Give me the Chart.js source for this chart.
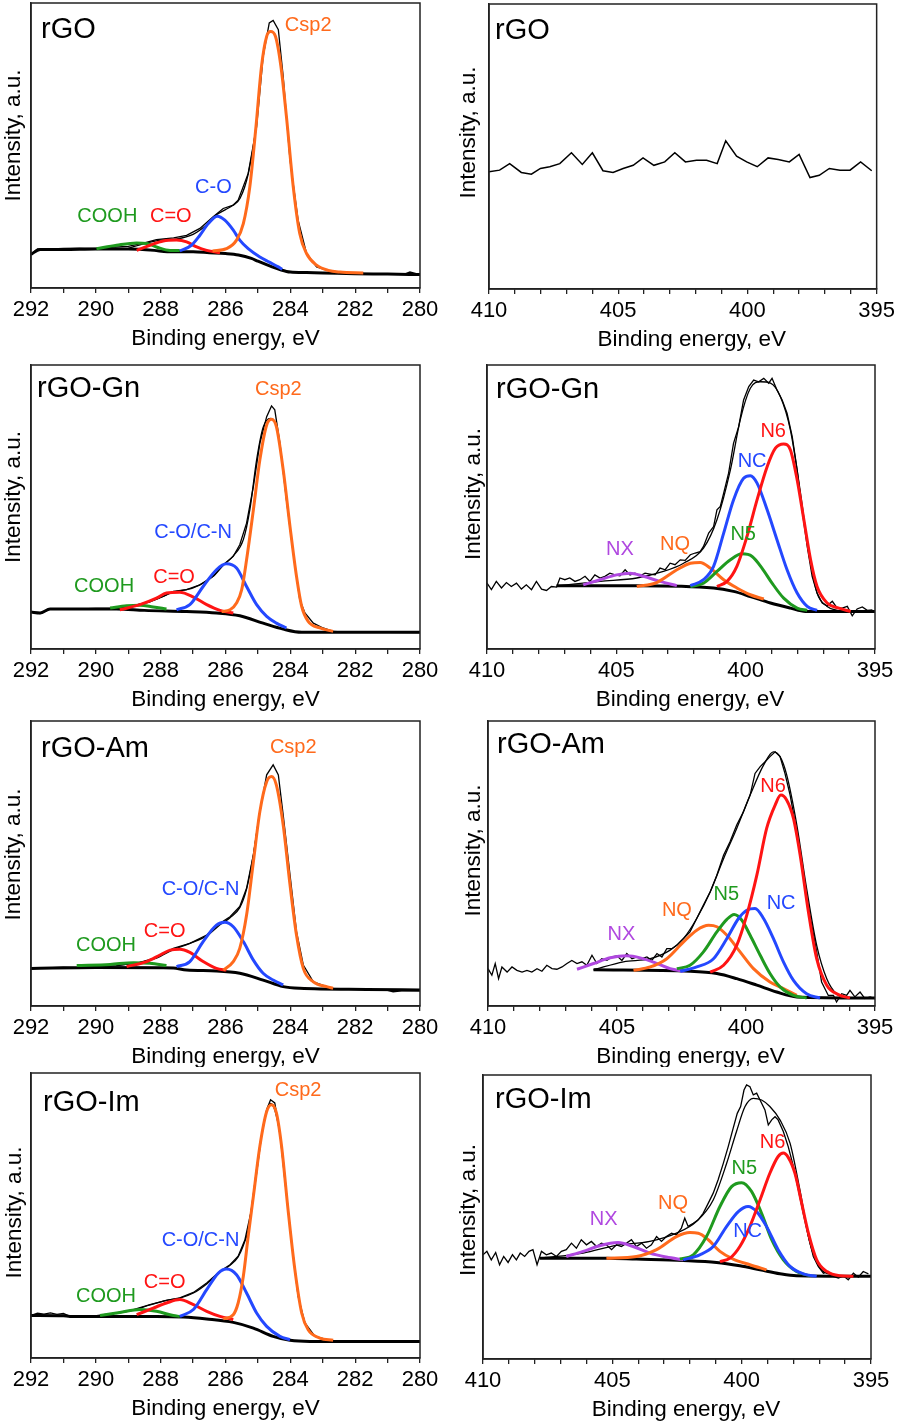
<!DOCTYPE html>
<html>
<head>
<meta charset="utf-8">
<script src="https://cdn.jsdelivr.net/npm/chart.js@4.4.1/dist/chart.umd.min.js"></script>
<style>
  html, body { margin: 0; padding: 0; background: #fff; }
  #page { position: relative; width: 899px; height: 1423px; overflow: hidden; }
  #page canvas { position: absolute; }
</style>
</head>
<body>
<div id="page"></div>
<script>
// ---- C 1s, rGO ----
const rgoC1sRaw = [[292.0,11.8],[291.8,13.7],[291.5,13.6],[291.0,13.9],[290.5,14.0],[290.0,13.9],[289.5,14.3],[289.0,14.6],[288.5,15.8],[288.13,17.0],[287.6,17.6],[287.2,18.5],[286.79,20.9],[286.38,25.0],[286.07,27.9],[285.76,29.1],[285.61,30.8],[285.30,40.2],[285.04,56.6],[284.84,81.2],[284.65,93.0],[284.53,93.9],[284.37,90.6],[284.22,74.2],[284.01,44.9],[283.76,23.8],[283.50,12.1],[283.19,7.4],[282.68,5.6],[282.0,5.0],[281.0,4.9],[280.5,4.8],[280.31,5.6],[280.0,4.7]];
const rgoC1sFit = [[289.0,13.9],[288.5,15.6],[288.0,16.8],[287.5,17.2],[287.0,18.8],[286.6,22.0],[286.3,25.5],[286.0,27.5],[285.76,29.1],[285.55,31.5],[285.3,40.0],[285.06,56.6],[284.89,77.7],[284.73,88.3],[284.61,90.0],[284.46,88.3],[284.29,77.7],[284.12,60.1],[283.91,35.5],[283.71,19.1],[283.50,12.1],[283.19,8.0],[282.83,6.2],[282.47,5.6],[281.75,5.3]];
const rgoC1sBg = [[292.0,11.8],[291.72,13.5],[291.0,13.5],[290.0,13.7],[289.0,13.7],[288.2,13.2],[287.8,12.7],[287.0,12.7],[286.5,12.4],[286.0,12.1],[285.6,11.6],[285.2,10.4],[285.0,9.4],[284.6,7.6],[284.3,6.4],[284.0,5.6],[283.5,5.4],[283.0,5.3],[282.0,5.0],[281.0,4.9],[280.0,4.7]];
const rgoC1sCsp2 = [[286.4,13.0],[285.97,13.8],[285.66,16.8],[285.45,22.6],[285.25,35.5],[285.06,56.6],[284.89,77.7],[284.73,88.3],[284.61,90.0],[284.46,88.3],[284.29,77.7],[284.12,60.1],[283.91,35.5],[283.71,19.1],[283.50,12.1],[283.19,8.0],[282.83,6.2],[282.47,5.6],[281.75,5.3]];
const rgoC1sCO = [[287.41,13.0],[287.05,15.0],[286.79,18.5],[286.53,22.6],[286.25,25.2],[286.02,23.8],[285.76,20.3],[285.56,16.8],[285.30,13.8],[284.94,10.9],[284.65,9.1],[284.37,7.4],[284.25,6.6]];
const rgoC1sCdO = [[288.74,13.2],[288.33,15.0],[287.92,16.5],[287.51,16.8],[287.20,16.2],[286.89,14.4],[286.58,13.2],[286.17,12.4]];
const rgoC1sCOOH = [[289.98,13.8],[289.36,15.0],[288.74,15.8],[288.43,15.6],[288.13,14.4],[287.71,13.2],[287.41,13.2]];

// ---- N 1s, rGO ----
const rgoN1sRaw = [[410.0,41.1],[409.59,41.7],[409.2,44.0],[408.75,40.9],[408.36,40.3],[408.01,42.3],[407.65,42.9],[407.26,44.0],[406.81,47.8],[406.39,43.7],[406.0,47.8],[405.59,41.5],[405.2,40.9],[404.81,42.3],[404.42,43.4],[404.04,46.0],[403.62,43.4],[403.2,44.6],[402.81,47.8],[402.4,44.6],[401.97,45.2],[401.58,45.2],[401.17,44.0],[400.84,52.0],[400.42,46.6],[400.03,44.6],[399.62,42.9],[399.2,46.0],[398.81,45.4],[398.38,44.6],[398.0,47.2],[397.58,39.1],[397.22,39.9],[396.83,42.3],[396.42,41.7],[396.03,41.7],[395.62,44.6],[395.19,41.5]];

// ---- C 1s, rGO-Gn ----
const gnC1sRaw = [[292.0,13.0],[291.72,12.5],[291.41,14.1],[291.0,14.2],[290.5,14.1],[290.0,14.3],[289.36,14.3],[288.84,15.2],[288.33,16.8],[287.92,18.5],[287.61,20.3],[287.20,20.9],[286.79,22.6],[286.38,25.6],[286.07,29.7],[285.76,32.6],[285.56,36.7],[285.35,44.3],[285.14,57.2],[284.94,72.4],[284.73,81.8],[284.58,85.6],[284.48,84.2],[284.32,72.4],[284.12,52.5],[283.91,33.8],[283.71,17.4],[283.55,12.7],[283.29,9.1],[282.99,7.4],[282.68,6.2],[281.0,5.9],[280.0,5.8]];
const gnC1sFit = [[289.0,15.0],[288.33,16.6],[287.61,20.0],[287.0,21.5],[286.38,25.6],[286.07,29.5],[285.76,32.8],[285.45,38.5],[285.25,49.0],[285.04,66.6],[284.84,78.0],[284.61,81.2],[284.43,78.3],[284.22,63.1],[284.01,43.1],[283.81,25.6],[283.65,15.0],[283.45,9.7],[283.09,7.4],[282.68,6.2],[281.75,5.9]];
const gnC1sBg = [[292.0,13.0],[291.72,12.7],[291.41,14.1],[290.5,14.1],[289.36,14.1],[288.5,13.6],[287.2,13.2],[286.28,12.7],[285.56,11.7],[284.84,9.1],[284.22,7.0],[283.65,5.9],[282.0,5.9],[280.0,5.9]];
const gnC1sCsp2 = [[286.12,13.2],[285.86,13.8],[285.66,16.2],[285.50,20.9],[285.35,31.4],[285.14,49.0],[284.94,66.6],[284.73,78.9],[284.58,80.9],[284.43,78.3],[284.22,63.1],[284.01,43.1],[283.81,25.6],[283.65,15.0],[283.45,9.7],[283.09,7.4],[282.68,6.2]];
const gnC1sCO = [[287.51,13.8],[287.10,15.6],[286.69,22.0],[286.28,27.9],[285.97,30.0],[285.66,28.5],[285.35,22.0],[285.04,15.6],[284.73,11.5],[284.43,9.1],[284.12,7.4]];
const gnC1sCdO = [[289.26,13.8],[288.64,15.6],[288.13,17.9],[287.82,19.7],[287.41,20.0],[286.99,18.3],[286.58,15.6],[286.17,13.6],[285.76,12.7]];
const gnC1sCOOH = [[289.56,14.4],[289.05,15.2],[288.64,15.4],[288.23,14.8],[287.82,14.1]];

// ---- N 1s, rGO-Gn ----
const gnN1sRaw = [[410.0,23.2],[409.83,20.9],[409.64,23.8],[409.44,21.5],[409.25,23.4],[409.06,22.0],[408.86,23.2],[408.67,21.1],[408.48,22.6],[408.28,20.9],[408.09,23.8],[407.89,21.1],[407.70,20.6],[407.51,22.0],[407.31,21.8],[407.18,25.0],[406.99,24.4],[406.80,25.0],[406.60,23.8],[406.41,24.4],[406.21,25.6],[406.02,23.8],[405.83,26.1],[405.63,25.0],[405.44,25.6],[405.25,26.7],[405.05,26.1],[404.86,25.8],[404.66,27.9],[404.47,26.1],[404.28,26.7],[404.08,25.8],[403.89,26.7],[403.70,26.4],[403.50,26.1],[403.31,28.5],[403.11,27.9],[402.92,30.2],[402.73,29.7],[402.53,31.4],[402.34,31.2],[402.14,33.2],[401.95,33.8],[401.76,34.3],[401.63,36.1],[401.43,40.8],[401.24,43.1],[401.11,49.0],[400.98,50.2],[400.85,54.9],[400.66,61.9],[400.47,72.4],[400.27,78.3],[400.08,87.7],[399.88,92.4],[399.69,94.7],[399.50,94.1],[399.30,95.3],[399.11,93.6],[398.98,95.3],[398.79,91.2],[398.59,87.7],[398.40,83.0],[398.20,74.8],[398.01,63.1],[397.82,49.0],[397.62,36.1],[397.43,25.6],[397.24,19.7],[397.04,16.2],[396.85,15.2],[396.65,16.8],[396.46,14.4],[396.27,14.4],[396.07,15.0],[395.88,11.7],[395.69,14.1],[395.49,14.8],[395.30,13.6],[395.10,13.8]];
const gnN1sFit = [[407.18,22.3],[405.63,23.8],[404.21,25.0],[403.18,27.3],[402.40,30.2],[401.63,35.5],[401.11,45.5],[400.59,63.1],[400.21,80.7],[399.82,91.8],[399.43,94.1],[399.04,93.6],[398.66,88.9],[398.27,77.1],[397.88,54.9],[397.56,33.8],[397.24,19.7],[396.85,15.0],[396.46,13.6],[395.94,13.2]];
const gnN1sBg = [[407.31,22.3],[404.21,22.3],[401.24,21.5],[400.47,20.3],[399.82,18.5],[399.04,16.2],[398.27,14.4],[397.69,13.2],[395.0,13.2]];
const gnN1sN6 = [[401.11,22.0],[400.72,23.8],[400.34,29.1],[399.95,39.6],[399.56,52.5],[399.17,64.2],[398.85,70.7],[398.53,72.2],[398.27,70.1],[398.01,59.6],[397.75,45.5],[397.49,31.4],[397.24,22.0],[396.85,16.2],[396.40,14.4],[395.94,13.2]];
const gnN1sNC = [[402.14,22.3],[401.63,24.4],[401.24,29.1],[400.85,40.8],[400.47,52.5],[400.08,60.1],[399.82,61.0],[399.56,58.4],[399.17,49.0],[398.79,38.5],[398.40,27.9],[398.01,19.7],[397.62,15.0],[397.24,13.6]];
const gnN1sN5 = [[402.14,22.0],[401.63,23.2],[401.11,27.3],[400.59,31.4],[400.14,33.5],[399.75,32.6],[399.37,28.5],[398.98,23.2],[398.53,17.9],[398.01,14.4],[397.62,13.6]];
const gnN1sNQ = [[404.21,22.0],[403.44,23.4],[402.66,27.9],[402.14,30.2],[401.76,30.5],[401.37,28.5],[400.85,24.4],[400.34,21.5],[399.82,19.1],[399.30,17.6]];
const gnN1sNX = [[406.28,22.6],[405.63,24.4],[404.99,26.1],[404.47,26.7],[403.95,25.6],[403.31,23.8],[402.66,22.3]];

// ---- C 1s, rGO-Am ----
const amC1sRaw = [[292.0,13.2],[291.5,13.4],[291.0,13.6],[290.5,13.5],[290.0,13.7],[289.36,14.2],[288.64,15.3],[288.13,17.0],[287.61,20.2],[287.10,22.0],[286.58,24.9],[286.17,29.0],[285.86,31.3],[285.56,34.9],[285.35,41.3],[285.14,53.0],[284.94,68.2],[284.73,81.1],[284.53,84.6],[284.37,81.1],[284.22,67.0],[284.01,46.0],[283.81,26.1],[283.60,14.4],[283.29,8.5],[282.88,6.8],[282.68,6.2],[281.65,5.8],[281.0,5.5],[280.83,5.0],[280.5,5.4],[280.0,5.3]];
const amC1sFit = [[289.36,14.2],[288.64,15.3],[288.13,16.8],[287.61,19.8],[287.10,22.0],[286.58,24.6],[286.17,28.5],[285.86,31.0],[285.56,34.5],[285.35,41.0],[285.14,53.0],[284.94,68.2],[284.73,78.7],[284.58,80.5],[284.43,77.5],[284.22,63.5],[284.01,42.5],[283.81,24.9],[283.60,13.2],[283.29,8.5],[282.88,6.8],[282.68,6.2]];
const amC1sBg = [[292.0,13.2],[290.0,13.5],[288.0,13.4],[287.61,13.3],[287.2,12.6],[286.28,12.3],[285.56,11.5],[284.84,9.1],[284.22,6.8],[283.71,6.2],[281.65,5.8],[280.0,5.6]];
const amC1sCsp2 = [[286.07,12.6],[285.76,15.6],[285.56,20.2],[285.35,31.9],[285.14,50.6],[284.94,68.2],[284.73,78.7],[284.58,80.5],[284.43,77.5],[284.22,63.5],[284.01,42.5],[283.81,24.9],[283.60,13.2],[283.29,8.5],[282.88,6.8],[282.68,6.2]];
const amC1sCO = [[287.51,13.8],[287.10,15.6],[286.69,22.6],[286.28,28.4],[286.02,29.4],[285.76,27.8],[285.45,22.6],[285.14,16.1],[284.84,11.5],[284.53,9.1],[284.22,7.4]];
const amC1sCdO = [[289.05,13.8],[288.43,15.6],[288.02,17.9],[287.71,19.6],[287.41,19.9],[287.10,18.8],[286.69,15.6],[286.28,13.2],[285.97,12.6]];
const amC1sCOOH = [[290.59,14.2],[289.56,14.6],[288.84,15.2],[288.33,15.0],[287.82,14.2]];

// ---- N 1s, rGO-Am ----
const amN1sRaw = [[410.0,13.1],[409.85,10.8],[409.72,14.9],[409.59,9.6],[409.46,13.7],[409.26,11.9],[409.07,13.7],[408.88,12.5],[408.68,11.9],[408.49,12.5],[408.30,11.9],[408.10,13.1],[407.91,12.2],[407.72,14.3],[407.52,13.1],[407.33,12.9],[407.13,13.7],[406.94,14.9],[406.75,16.0],[406.55,14.9],[406.36,15.5],[406.17,14.3],[405.97,17.8],[405.78,14.9],[405.59,16.6],[405.39,16.0],[405.20,17.2],[405.00,17.6],[404.81,16.0],[404.62,18.4],[404.42,16.6],[404.23,17.2],[404.04,16.6],[403.84,17.2],[403.65,16.0],[403.45,18.4],[403.26,17.2],[403.07,20.1],[402.87,20.1],[402.68,21.3],[402.42,23.7],[402.17,26.0],[401.91,30.7],[401.65,35.4],[401.39,40.0],[401.13,45.9],[400.87,52.9],[400.62,57.6],[400.36,63.5],[400.10,68.1],[399.84,74.0],[399.65,81.6],[399.45,84.0],[399.26,85.7],[399.07,87.5],[398.87,89.2],[398.68,87.5],[398.49,81.6],[398.29,74.0],[398.03,61.1],[397.78,45.9],[397.52,31.9],[397.26,19.0],[397.07,8.4],[396.81,3.7],[396.61,3.7],[396.49,1.4],[396.29,4.3],[396.10,3.7],[395.97,5.5],[395.78,3.2],[395.58,4.9],[395.39,2.6],[395.19,3.2],[395.0,2.6]];
const amN1sFit = [[405.91,12.7],[404.75,15.5],[403.71,16.6],[402.94,19.6],[402.42,23.7],[401.91,30.7],[401.39,40.0],[400.87,51.7],[400.36,62.3],[399.84,74.0],[399.32,84.5],[398.94,89.2],[398.68,87.5],[398.42,81.0],[398.03,63.5],[397.65,41.2],[397.26,21.3],[396.87,9.6],[396.49,4.3],[395.97,2.8]];
const amN1sBg = [[405.91,12.7],[402.17,12.2],[401.13,11.4],[400.36,9.6],[399.58,7.3],[398.81,4.9],[398.03,3.2],[395.0,2.8]];
const amN1sN6 = [[401.39,11.9],[400.87,14.3],[400.36,21.3],[399.97,31.9],[399.58,45.9],[399.20,62.3],[398.87,70.5],[398.65,74.0],[398.42,72.2],[398.16,65.8],[397.90,52.9],[397.58,33.0],[397.26,16.6],[396.87,7.3],[396.42,4.0],[395.97,2.8]];
const amN1sNC = [[402.55,12.2],[401.91,13.7],[401.26,16.6],[400.74,23.7],[400.29,30.7],[399.97,33.6],[399.65,34.2],[399.32,30.7],[398.94,23.7],[398.55,15.5],[398.16,9.0],[397.65,4.3],[397.13,2.8]];
const amN1sN5 = [[402.68,13.1],[402.17,14.3],[401.65,19.0],[401.13,26.0],[400.74,30.4],[400.46,32.1],[400.16,30.1],[399.84,24.8],[399.45,17.8],[399.07,11.4],[398.68,6.7],[398.16,3.7],[397.65,2.8]];
const amN1sNQ = [[404.36,12.5],[403.71,13.7],[403.07,16.6],[402.42,22.5],[401.91,26.6],[401.45,28.3],[401.13,27.8],[400.74,24.8],[400.23,19.0],[399.71,13.1],[399.07,8.4],[398.55,6.1],[398.03,3.7]];
const amN1sNX = [[406.55,12.9],[405.91,14.9],[405.26,16.9],[404.62,17.6],[404.10,16.9],[403.45,14.9],[402.94,13.1],[402.42,12.2]];

// ---- C 1s, rGO-Im ----
const imC1sRaw = [[292.0,14.9],[291.8,15.7],[291.6,15.4],[291.4,15.8],[291.2,15.3],[291.0,15.6],[290.8,14.6],[290.4,14.7],[289.98,14.9],[289.36,15.8],[288.84,17.0],[288.33,18.7],[287.82,20.2],[287.41,21.1],[286.99,23.0],[286.58,26.3],[286.17,30.4],[285.86,32.7],[285.61,35.7],[285.40,41.5],[285.20,52.0],[285.04,64.9],[284.89,77.8],[284.73,87.1],[284.61,90.6],[284.48,89.5],[284.32,78.9],[284.17,62.6],[283.96,40.4],[283.76,21.6],[283.55,12.3],[283.24,7.6],[282.78,6.2],[281.5,5.8],[281.0,6.0],[280.8,5.8],[280.3,5.9],[280.0,5.6]];
const imC1sFit = [[289.36,15.6],[288.84,16.8],[288.33,18.6],[287.82,20.2],[287.41,21.0],[286.99,22.8],[286.58,26.0],[286.17,30.2],[285.86,32.5],[285.61,35.5],[285.45,39.5],[285.30,45.0],[285.14,57.5],[284.94,74.5],[284.73,86.8],[284.61,89.3],[284.46,86.3],[284.27,74.5],[284.07,52.2],[283.86,31.2],[283.65,16.0],[283.45,10.0],[283.09,7.0],[282.68,6.2]];
const imC1sBg = [[292.0,14.9],[291.0,14.8],[290.80,14.6],[289.0,14.6],[288.13,14.6],[287.30,14.4],[286.58,13.7],[285.76,12.5],[285.14,10.5],[284.53,7.6],[284.01,6.2],[283.40,5.8],[280.0,5.8]];
const imC1sCsp2 = [[286.07,13.7],[285.76,15.2],[285.61,19.3],[285.45,28.7],[285.30,42.7],[285.14,56.7],[284.94,74.3],[284.73,86.5],[284.58,88.9],[284.43,86.0],[284.27,74.3],[284.07,52.0],[283.86,31.0],[283.65,15.8],[283.45,9.9],[283.09,7.0],[282.68,6.2]];
const imC1sCO = [[287.41,14.6],[286.99,17.0],[286.58,24.0],[286.22,29.8],[285.97,31.2],[285.66,29.2],[285.35,22.8],[285.04,15.8],[284.73,11.1],[284.32,7.6],[284.01,6.4]];
const imC1sCdO = [[288.74,15.2],[288.23,17.5],[287.82,19.3],[287.41,20.5],[286.99,18.7],[286.58,16.4],[286.17,14.6],[285.76,13.5]];
const imC1sCOOH = [[289.87,14.9],[289.26,16.0],[288.64,17.0],[288.13,16.4],[287.61,14.9],[287.41,14.6]];

// ---- N 1s, rGO-Im ----
const imN1sRaw = [[410.0,36.7],[409.85,37.9],[409.68,34.9],[409.51,37.5],[409.36,33.2],[409.20,36.1],[409.03,34.0],[408.86,36.7],[408.71,34.9],[408.56,37.3],[408.39,36.1],[408.22,37.9],[408.07,38.5],[407.91,33.2],[407.74,37.9],[407.55,36.7],[407.36,37.3],[407.16,36.1],[406.97,37.9],[406.78,38.5],[406.58,40.8],[406.39,39.0],[406.20,42.0],[406.00,40.2],[405.81,41.4],[405.61,39.6],[405.42,40.8],[405.23,40.2],[405.03,38.5],[404.84,40.2],[404.65,39.6],[404.45,40.8],[404.26,42.0],[404.07,39.6],[403.87,40.8],[403.68,39.0],[403.49,40.2],[403.29,43.1],[403.10,41.4],[402.91,43.1],[402.71,44.3],[402.52,43.7],[402.33,46.1],[402.20,49.6],[402.07,46.7],[401.87,47.8],[401.68,49.0],[401.49,51.3],[401.29,54.9],[401.10,58.4],[400.91,63.1],[400.71,68.9],[400.52,74.8],[400.33,81.2],[400.17,86.5],[400.04,88.9],[399.91,94.7],[399.81,96.5],[399.68,95.9],[399.55,93.0],[399.42,93.6],[399.29,91.2],[399.10,87.7],[398.97,82.4],[398.84,84.2],[398.71,85.3],[398.59,84.2],[398.39,80.1],[398.20,74.8],[398.00,67.8],[397.81,59.6],[397.62,51.3],[397.42,43.1],[397.23,36.1],[397.04,32.6],[396.84,30.2],[396.65,30.8],[396.46,29.1],[396.26,28.5],[396.07,29.3],[395.88,27.9],[395.68,30.2],[395.49,28.8],[395.30,30.8],[395.10,30.0]];
const imN1sFit = [[407.81,35.5],[406.13,37.3],[404.84,40.0],[403.55,41.4],[402.52,44.3],[401.75,48.4],[401.10,56.0],[400.58,68.9],[400.20,80.1],[399.87,88.9],[399.55,91.8],[399.23,91.2],[398.91,88.9],[398.52,84.2],[398.13,76.0],[397.75,59.6],[397.36,40.8],[396.97,32.0],[396.46,29.7],[395.81,29.1]];
const imN1sBg = [[407.81,35.5],[405.23,35.5],[404.07,35.2],[402.26,34.7],[400.97,34.0],[400.07,32.8],[399.29,31.4],[398.52,30.0],[397.88,29.3],[395.0,29.1]];
const imN1sN6 = [[400.84,34.3],[400.45,35.5],[400.07,39.6],[399.68,46.7],[399.29,56.0],[398.91,65.4],[398.59,71.3],[398.39,72.5],[398.20,71.0],[397.94,65.4],[397.68,54.9],[397.42,44.3],[397.10,34.9],[396.71,30.8],[396.20,29.3],[395.68,29.1]];
const imN1sNC = [[402.26,34.9],[401.62,36.7],[401.10,39.6],[400.58,46.7],[400.13,51.9],[399.75,53.7],[399.42,51.9],[399.04,46.7],[398.59,38.5],[398.13,32.6],[397.62,30.0],[397.10,29.1]];
const imN1sN5 = [[402.39,35.2],[401.87,36.7],[401.36,43.1],[400.84,53.7],[400.39,60.7],[400.00,62.1],[399.62,59.0],[399.23,51.3],[398.84,42.0],[398.39,34.9],[397.88,30.8],[397.36,29.3]];
const imN1sNQ = [[405.23,35.5],[404.07,36.1],[403.29,38.5],[402.52,43.1],[402.00,44.5],[401.68,44.3],[401.29,42.0],[400.84,37.9],[400.33,35.2],[399.68,33.2],[399.04,31.4]];
const imN1sNX = [[406.78,36.1],[406.13,37.9],[405.49,39.9],[404.78,41.0],[404.20,39.6],[403.55,37.3],[402.91,35.9],[402.26,34.9]];

const ORANGE = '#ff6a1c', RED = '#ff1414', BLUE = '#2448ff', GREEN = '#1f9a1f', PURPLE = '#b048e0';
const FONT = '"Liberation Sans", Arial, sans-serif';

// one C 1s / N 1s panel set, plus where each sits on the page
function c1sSets(raw, fit, bg, csp2, co, cdo, cooh) {
  return [
    { data: csp2, color: ORANGE, w: 3, smooth: true },
    { data: co, color: BLUE, w: 3, smooth: true },
    { data: cdo, color: RED, w: 3, smooth: true },
    { data: cooh, color: GREEN, w: 3, smooth: true },
    { data: fit, color: '#000', w: 1.3, smooth: true },
    { data: raw, color: '#000', w: 1.3, smooth: false },
    { data: bg, color: '#000', w: 3, smooth: true }
  ];
}
function n1sSets(raw, fit, bg, n6, nc, n5, nq, nx) {
  return [
    { data: n6, color: RED, w: 3, smooth: true },
    { data: nc, color: BLUE, w: 3, smooth: true },
    { data: n5, color: GREEN, w: 3, smooth: true },
    { data: nq, color: ORANGE, w: 3, smooth: true },
    { data: nx, color: PURPLE, w: 3, smooth: true },
    { data: fit, color: '#000', w: 1.3, smooth: true },
    { data: raw, color: '#000', w: 1.3, smooth: false },
    { data: bg, color: '#000', w: 3, smooth: true }
  ];
}

const rows = [[0, 356], [356, 356], [712, 355], [1067, 356]];
const cols = [[0, 450], [450, 449]];

const panels = [
  { row: 0, col: 0, box: [31, 3, 420, 288], name: 'rGO', nameAt: [10, 35], yt: [-11, -10],
    sets: c1sSets(rgoC1sRaw, rgoC1sFit, rgoC1sBg, rgoC1sCsp2, rgoC1sCO, rgoC1sCdO, rgoC1sCOOH),
    labels: [['Csp2', 284.17, 90.3, ORANGE], ['C-O', 286.94, 33.2, BLUE], ['C=O', 288.33, 23.2, RED], ['COOH', 290.57, 23.2, GREEN]] },
  { row: 0, col: 1, box: [489, 4, 877, 289], name: 'rGO', nameAt: [6, 35], yt: [-14, -14],
    sets: [{ data: rgoN1sRaw, color: '#000', w: 1.5, smooth: false }], labels: [] },
  { row: 1, col: 0, box: [31, 365, 420, 649], name: 'rGO-Gn', nameAt: [6, 32], yt: [-11, -10],
    sets: c1sSets(gnC1sRaw, gnC1sFit, gnC1sBg, gnC1sCsp2, gnC1sCO, gnC1sCdO, gnC1sCOOH),
    labels: [['Csp2', 285.09, 89.4, ORANGE], ['C-O/C-N', 288.2, 39.0, BLUE], ['C=O', 288.23, 23.4, RED], ['COOH', 290.67, 19.9, GREEN]] },
  { row: 1, col: 1, box: [487, 365, 875, 649], name: 'rGO-Gn', nameAt: [9, 33], yt: [-7, -13],
    sets: n1sSets(gnN1sRaw, gnN1sFit, gnN1sBg, gnN1sN6, gnN1sNC, gnN1sN5, gnN1sNQ, gnN1sNX),
    labels: [['NX', 405.40, 33.2, PURPLE], ['NQ', 403.31, 34.7, ORANGE], ['N5', 400.59, 38.5, GREEN], ['NC', 400.31, 64.2, BLUE], ['N6', 399.43, 74.8, RED]] },
  { row: 2, col: 0, box: [31, 721, 420, 1006], name: 'rGO-Am', nameAt: [10, 36], yt: [-11, -9],
    sets: c1sSets(amC1sRaw, amC1sFit, amC1sBg, amC1sCsp2, amC1sCO, amC1sCdO, amC1sCOOH),
    labels: [['Csp2', 284.63, 88.7, ORANGE], ['C-O/C-N', 287.97, 38.9, BLUE], ['C=O', 288.52, 24.3, RED], ['COOH', 290.61, 19.3, GREEN]] },
  { row: 2, col: 1, box: [488, 721, 875, 1006], name: 'rGO-Am', nameAt: [9, 32], yt: [-8, -13],
    sets: n1sSets(amN1sRaw, amN1sFit, amN1sBg, amN1sN6, amN1sNC, amN1sN5, amN1sNQ, amN1sNX),
    labels: [['NX', 405.37, 23.1, PURPLE], ['NQ', 403.26, 31.6, ORANGE], ['N5', 401.26, 37.1, GREEN], ['NC', 399.2, 34.2, BLUE], ['N6', 399.45, 75.2, RED]] },
  { row: 3, col: 0, box: [31, 1073, 420, 1358], name: 'rGO-Im', nameAt: [12, 38], yt: [-10, -3],
    sets: c1sSets(imC1sRaw, imC1sFit, imC1sBg, imC1sCsp2, imC1sCO, imC1sCdO, imC1sCOOH),
    labels: [['Csp2', 284.48, 91.8, ORANGE], ['C-O/C-N', 287.97, 39.2, BLUE], ['C=O', 288.52, 24.6, RED], ['COOH', 290.61, 19.5, GREEN]] },
  { row: 3, col: 1, box: [483, 1075, 871, 1359], name: 'rGO-Im', nameAt: [12, 33], yt: [-8, -7],
    sets: n1sSets(imN1sRaw, imN1sFit, imN1sBg, imN1sN6, imN1sNC, imN1sN5, imN1sNQ, imN1sNX),
    labels: [['NX', 405.87, 47.2, PURPLE], ['NQ', 403.23, 52.8, ORANGE], ['N5', 400.39, 65.2, GREEN], ['NC', 400.33, 43.1, BLUE], ['N6', 399.3, 74.2, RED]] }
];

function drawDecor(chart, p, isN) {
  const { ctx, chartArea: a, scales } = chart;
  ctx.save();
  ctx.strokeStyle = '#222';
  ctx.lineWidth = 1.5;
  ctx.strokeRect(a.left, a.top, a.right - a.left, a.bottom - a.top);

  ctx.fillStyle = '#000';
  ctx.font = '22.5px ' + FONT;
  ctx.textAlign = 'center';
  ctx.textBaseline = 'alphabetic';
  ctx.fillText('Binding energy, eV', (a.left + a.right) / 2 + (isN ? 9 : 0), a.bottom + 57);

  ctx.save();
  ctx.translate(a.left + p.yt[0], (a.top + a.bottom) / 2 + p.yt[1]);
  ctx.rotate(-Math.PI / 2);
  ctx.fillText('Intensity, a.u.', 0, 0);
  ctx.restore();

  ctx.textAlign = 'left';
  ctx.font = '29px ' + FONT;
  ctx.fillText(p.name, a.left + p.nameAt[0], a.top + p.nameAt[1]);

  ctx.font = '20px ' + FONT;
  p.labels.forEach(([txt, ev, val, col]) => {
    ctx.fillStyle = col;
    ctx.fillText(txt, scales.x.getPixelForValue(ev), scales.y.getPixelForValue(val));
  });
  ctx.restore();
}

const page = document.getElementById('page');

panels.forEach(p => {
  const [top, h] = rows[p.row];
  const [left, w] = cols[p.col];
  const isN = p.col === 1;
  const [L, T, R, B] = p.box;

  const canvas = document.createElement('canvas');
  canvas.width = w;
  canvas.height = h;
  canvas.style.left = left + 'px';
  canvas.style.top = top + 'px';
  canvas.style.width = w + 'px';
  canvas.style.height = h + 'px';
  page.appendChild(canvas);

  new Chart(canvas.getContext('2d'), {
    type: 'line',
    data: {
      datasets: p.sets.map(s => ({
        data: s.data,
        borderColor: s.color,
        borderWidth: s.w,
        pointRadius: 0,
        fill: false,
        tension: s.smooth ? 0.4 : 0,
        cubicInterpolationMode: s.smooth ? 'monotone' : 'default'
      }))
    },
    options: {
      responsive: false,
      animation: false,
      devicePixelRatio: 1,
      layout: { padding: { left: 0, top: T - top, right: left + w - R, bottom: 0 } },
      plugins: { legend: { display: false }, tooltip: { enabled: false } },
      scales: {
        x: {
          type: 'linear',
          reverse: true,
          min: isN ? 395 : 280,
          max: isN ? 410 : 292,
          afterFit: s => { s.height = top + h - B; },
          ticks: {
            stepSize: 1,
            autoSkip: false,
            maxRotation: 0,
            padding: 4,
            color: '#000',
            font: { family: FONT, size: 22 },
            callback: v => (Math.round(v) % (isN ? 5 : 2) === 0 ? String(Math.round(v)) : '')
          },
          grid: { drawOnChartArea: false, drawTicks: true, tickLength: 5, color: '#222', lineWidth: 1.3 },
          border: { display: true, color: '#222', width: 1.5 }
        },
        y: {
          min: 0,
          max: 100,
          afterFit: s => { s.width = L - left; },
          ticks: { display: false },
          grid: { display: false, drawTicks: false },
          border: { display: true, color: '#222', width: 1.5 }
        }
      }
    },
    plugins: [{ id: 'decor', afterDraw: chart => drawDecor(chart, p, isN) }]
  });
});
</script>
</body>
</html>
